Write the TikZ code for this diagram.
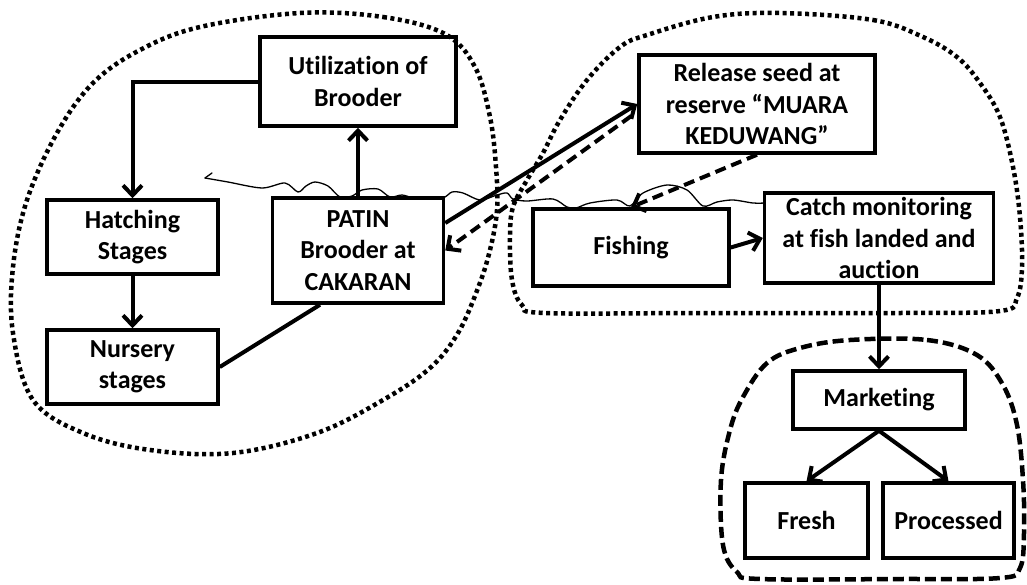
\documentclass[tikz,border=0pt]{standalone}
\usepackage{fontspec}
\setmainfont{Carlito}[Ligatures={NoCommon,NoContextual}]
\usetikzlibrary{arrows.meta}
\begin{document}
\begin{tikzpicture}[x=1pt,y=-1pt,
  box/.style={draw, line width=3.5pt, inner sep=0pt, align=center,
    font=\fontsize{26}{31.5}\selectfont\bfseries},
  conn/.style={line width=4pt},
  arr/.style={conn, -{Straight Barb[length=10pt,width=19pt]}},
  dasharr/.style={arr, dash pattern=on 11pt off 6pt},
  dotblob/.style={line width=4.5pt, dash pattern=on 4pt off 3.5pt},
  dashblob/.style={line width=4.5pt, dash pattern=on 11pt off 5pt},
  scribble/.style={line width=1.3pt, line join=round, line cap=round}]
\useasboundingbox (0,0) rectangle (1027,584);

% grouping outlines
\draw[dotblob] plot[smooth cycle, tension=0.6] coordinates {
  (300,13) (383,17) (445,34) (475,67) (490,117) (496,167) (497,210)
  (490,250) (478,288) (458,333) (430,368) (383,400) (317,433) (233,453)
  (150,450) (83,433) (33,400) (13,333) (13,267) (27,200) (57,133)
  (93,83) (140,50) (200,27)};
\draw[dotblob] plot[smooth cycle, tension=0.6] coordinates {
  (780,13) (873,20) (923,37) (957,57) (980,83) (1000,117) (1013,167)
  (1020,217) (1022,267) (1017,298) (1000,311) (900,313) (700,313)
  (545,313) (522,305) (512,280) (510,237) (513,207) (527,180) (543,153)
  (560,120) (587,80) (620,47) (647,35) (713,17)};
\draw[dashblob] plot[smooth cycle, tension=0.6] coordinates {
  (850,340) (927,340) (977,355) (1003,385) (1017,425) (1023,480)
  (1024,533) (1020,568) (1000,578) (900,579) (760,579) (737,572)
  (723,545) (721,480) (730,430) (743,397) (767,363) (800,348)};

% hand-drawn water line
\draw[scribble] plot[smooth, tension=0.5] coordinates {
  (205,178) (228,182) (262,188) (285,183) (298,192) (306,186) (315,182)
  (328,186) (340,197) (352,196) (362,190) (378,189) (390,197) (402,195)
  (415,198) (442,198) (452,192) (463,193) (480,200) (497,195) (507,193)
  (513,199) (527,201) (553,199) (567,207) (576,208) (590,203) (617,200)
  (630,206) (643,193) (667,185) (687,190) (703,206) (717,202) (733,200)
  (753,203) (765,203)};
\draw[scribble] (205,178) -- (212,173);

% boxes
\node[box, minimum width=196pt, minimum height=89pt] (util) at (358,81.5) {Utilization of\\Brooder};
\node[box, minimum width=171pt, minimum height=74pt] (hatch) at (132.5,237) {Hatching\\Stages};
\node[box, minimum width=171pt, minimum height=74pt] (nurs) at (132.5,367) {Nursery\\stages};
\node[box, minimum width=171pt, minimum height=105pt] (patin) at (358,250.5) {PATIN\\Brooder at\\CAKARAN};
\node[box, minimum width=236pt, minimum height=98pt] (rel) at (757,104) {Release seed at\\reserve “MUARA\\KEDUWANG”};
\node[box, minimum width=196pt, minimum height=77pt] (fish) at (631,247.5) {Fishing};
\node[box, minimum width=229pt, minimum height=90pt] (catch) at (879,238) {Catch monitoring\\at fish landed and\\auction};
\node[box, minimum width=172pt, minimum height=58pt] (mkt) at (879,400) {Marketing};
\node[box, minimum width=123pt, minimum height=75pt] (fresh) at (806.5,520.5) {Fresh};
\node[box, minimum width=131pt, minimum height=75pt] (proc) at (948.5,520.5) {Processed};

% connectors
\draw[arr] (util.west) -| (hatch.north);
\draw[arr] (hatch) -- (nurs);
\draw[conn] (nurs.east) -- ([xshift=-38pt]patin.south);
\draw[arr] (patin) -- (util);
\draw[arr] ([yshift=27.5pt]patin.east) -- (rel.west);
\draw[dasharr] ([xshift=-6pt,yshift=-12pt]rel.west) -- (patin.east);
\draw[dasharr] (rel.south) -- (fish.north);
\draw[arr] (fish.east) -- (catch.west);
\draw[arr] (catch) -- (mkt);
\draw[arr] (mkt.south) -- (fresh.north);
\draw[arr] (mkt.south) -- (proc.north);
\end{tikzpicture}
\end{document}
